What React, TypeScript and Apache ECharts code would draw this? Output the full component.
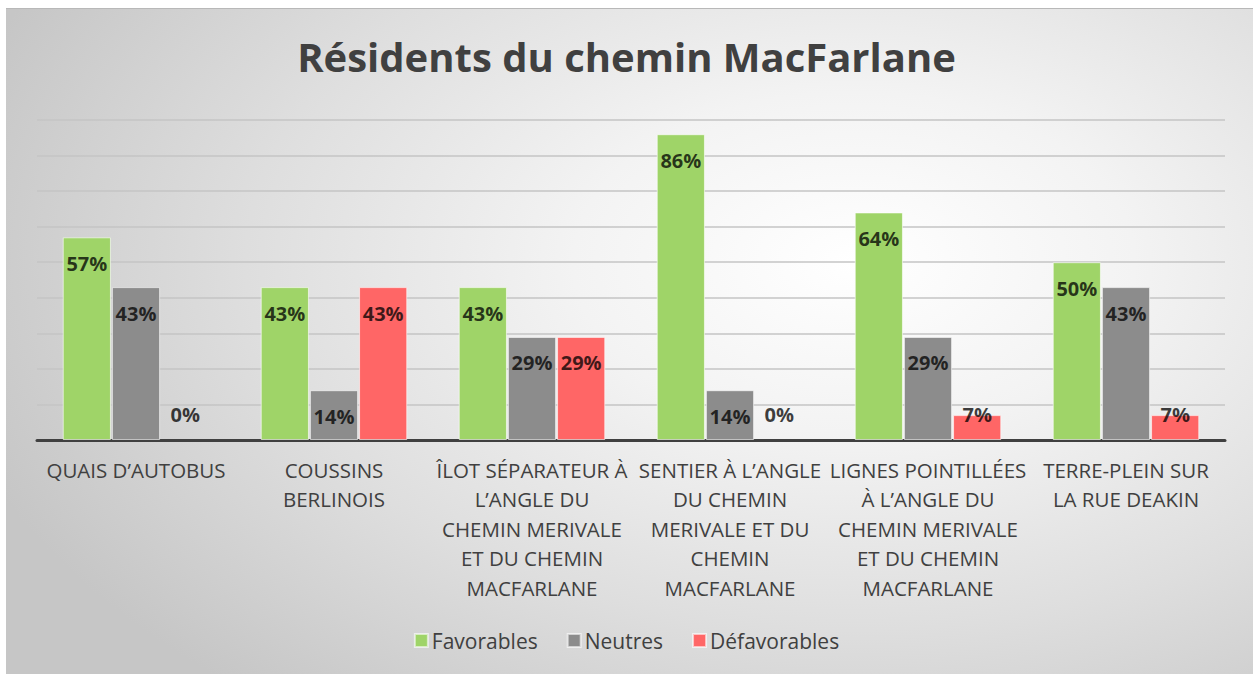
import React, { useEffect, useRef } from "react";
import * as echarts from "echarts";

const categories = [
  "QUAIS D’AUTOBUS",
  "COUSSINS\nBERLINOIS",
  "ÎLOT SÉPARATEUR À\nL’ANGLE DU\nCHEMIN MERIVALE\nET DU CHEMIN\nMACFARLANE",
  "SENTIER À L’ANGLE\nDU CHEMIN\nMERIVALE ET DU\nCHEMIN\nMACFARLANE",
  "LIGNES POINTILLÉES\nÀ L’ANGLE DU\nCHEMIN MERIVALE\nET DU CHEMIN\nMACFARLANE",
  "TERRE-PLEIN SUR\nLA RUE DEAKIN",
];
const favorables = [57, 43, 43, 86, 64, 50];
const neutres = [43, 14, 29, 14, 29, 43];
const defavorables = [0, 43, 29, 0, 7, 7];

const seriesNames = ["Favorables", "Neutres", "Défavorables"];
const seriesColors = ["#9fd468", "#8c8c8c", "#ff6666"];

const FONT = "'Open Sans', 'Noto Sans', sans-serif";

function makeData(values: number[]) {
  return values.map((v) =>
    v < 10
      ? {
          value: v,
          label: { position: "insideBottom", distance: 16 },
          itemStyle: v === 0 ? { borderWidth: 0 } : undefined,
        }
      : { value: v }
  );
}

export default function App() {
  const ref = useRef<HTMLDivElement>(null);
  useEffect(() => {
    if (!ref.current) return;
    const chart = echarts.init(ref.current, null, { renderer: "svg" });
    const all = [favorables, neutres, defavorables];
    chart.setOption({
      animation: false,
      backgroundColor: "transparent",
      textStyle: { fontFamily: FONT },
      title: {
        text: "Résidents du chemin MacFarlane",
        left: "center",
        top: 31,
        textStyle: {
          fontFamily: FONT,
          fontSize: 40,
          fontWeight: "bold",
          color: "#404040",
        },
      },
      legend: {
        data: seriesNames,
        left: "center",
        top: 625,
        itemWidth: 13,
        itemHeight: 13,
        itemGap: 29,
        icon: "rect",
        textStyle: { fontFamily: FONT, fontSize: 21, color: "#404040", padding: [0, 0, 0, -1] },
      },
      grid: { left: 37, right: 28, top: 120, bottom: 234, containLabel: false },
      xAxis: {
        type: "category",
        data: categories,
        axisLine: { lineStyle: { color: "#404040", width: 3 } },
        axisTick: { show: false },
        axisLabel: {
          interval: 0,
          color: "#404040",
          fontFamily: FONT,
          fontSize: 20.5,
          lineHeight: 29.5,
          margin: 15,
        },
      },
      yAxis: {
        type: "value",
        min: 0,
        max: 90,
        interval: 10,
        axisLabel: { show: false },
        axisLine: { show: false },
        axisTick: { show: false },
        splitLine: { lineStyle: { color: "#c4c4c4", width: 1.5 } },
      },
      series: all.map((vals, i) => ({
        name: seriesNames[i],
        type: "bar",
        data: makeData(vals),
        barGap: "2%",
        barCategoryGap: "26%",
        itemStyle: {
          color: seriesColors[i],
          borderColor: "rgba(255,255,255,0.6)",
          borderWidth: 1,
        },
        label: {
          show: true,
          position: "insideTop",
          distance: 16,
          formatter: "{c}%",
          fontFamily: FONT,
          fontSize: 20,
          fontWeight: "bold",
          color: "rgba(0,0,0,0.75)",
        },
      })),
    });
    return () => chart.dispose();
  }, []);

  return (
    <div
      style={{
        position: "absolute",
        left: 0,
        top: 0,
        width: 1253,
        height: 674,
        background: "#ffffff",
        overflow: "hidden",
      }}
    >
      <div
        style={{
          position: "absolute",
          left: 6,
          top: 8,
          width: 1247,
          height: 666,
          borderTop: "1px solid #b8b8b8",
          background:
            "radial-gradient(ellipse 75% 85% at 68% 38%, #ffffff 0%, #f3f3f3 30%, #dedede 65%, #c6c6c6 100%)",
        }}
      />
      <div
        ref={ref}
        style={{ position: "absolute", left: 0, top: 0, width: 1253, height: 674 }}
      />
    </div>
  );
}
